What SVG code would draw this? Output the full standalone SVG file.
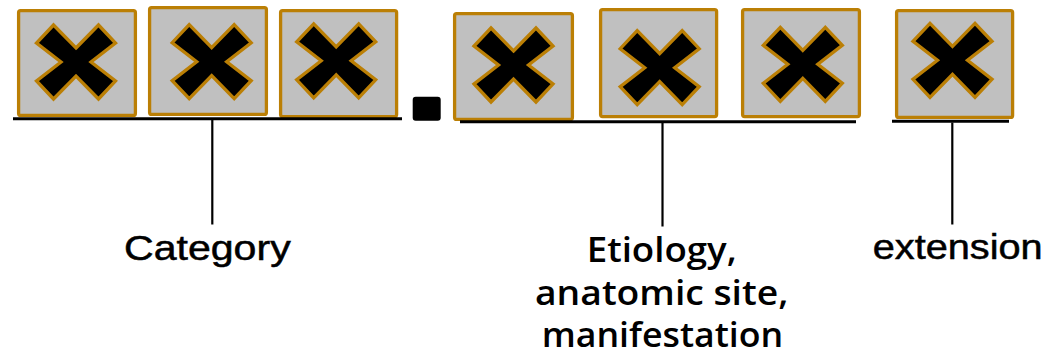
<svg xmlns="http://www.w3.org/2000/svg" width="1046" height="352" viewBox="0 0 1046 352">
<style>
.box{fill:#c0c0c0;stroke:#bb7f05;stroke-width:3.3}
.x{fill:#000;stroke:#bb7f05;stroke-width:3.3;stroke-linejoin:miter}
.ln{stroke:#000;stroke-width:3;fill:none}
.tk{stroke:#000;stroke-width:2.2;fill:none}
.t1{font-family:"Liberation Sans",Arial,sans-serif;font-size:35px;fill:#000;stroke:#000;stroke-width:0.5}
.t2{font-family:"Open Sans","Liberation Sans",sans-serif;font-size:34px;font-weight:600;fill:#000}
</style>
<defs>
<polygon id="cross" class="x" points="0,-14 22.5,-37 39.5,-19 15,0 39.5,19 22.5,37 0,14 -22.5,37 -39.5,19 -15,0 -39.5,-19 -22.5,-37"/>
</defs>
<g id="box1"><rect class="box" x="18.6" y="10.6" width="116.8" height="104.8" rx="2"/><use href="#cross" x="76" y="62"/></g>
<g id="box2"><rect class="box" x="149.6" y="7.6" width="116.8" height="106.8" rx="2"/><use href="#cross" x="211.7" y="61.7"/></g>
<g id="box3"><rect class="box" x="280.6" y="10.6" width="116" height="106" rx="2"/><use href="#cross" x="336.2" y="60.8"/></g>
<g id="period"><rect x="412.7" y="96.7" width="28" height="24" rx="3" fill="#000"/></g>
<g id="box4"><rect class="box" x="454.6" y="13.6" width="117.8" height="105.8" rx="2"/><use href="#cross" x="513.5" y="65"/></g>
<g id="box5"><rect class="box" x="600.6" y="9.6" width="116" height="107" rx="2"/><use href="#cross" x="659.7" y="67.7"/></g>
<g id="box6"><rect class="box" x="742.6" y="9.6" width="116.8" height="107" rx="2"/><use href="#cross" x="802.8" y="64.3"/></g>
<g id="box7"><rect class="box" x="896.6" y="10.6" width="116" height="106.8" rx="2"/><use href="#cross" x="952.5" y="60.3"/></g>
<g id="connectors">
<line class="ln" x1="13" y1="118.7" x2="402" y2="118.7"/>
<line class="ln" x1="460" y1="121.8" x2="856" y2="121.8"/>
<line class="ln" x1="892" y1="121.3" x2="1009" y2="121.3"/>
<line class="tk" x1="212.3" y1="120" x2="212.3" y2="224.5"/>
<line class="tk" x1="662.5" y1="123" x2="662.5" y2="226.5"/>
<line class="tk" x1="952.3" y1="122.5" x2="952.3" y2="224.5"/>
</g>
<g id="label-category"><text class="t1" x="124" y="259.5" textLength="166.7" lengthAdjust="spacingAndGlyphs">Category</text></g>
<g id="label-etiology">
<text class="t2" x="586.7" y="261.5" textLength="150" lengthAdjust="spacingAndGlyphs">Etiology,</text>
<text class="t2" x="535" y="304.5" textLength="253.3" lengthAdjust="spacingAndGlyphs">anatomic site,</text>
<text class="t2" x="541.7" y="346.5" textLength="241.6" lengthAdjust="spacingAndGlyphs">manifestation</text>
</g>
<g id="label-extension"><text class="t1" x="872.7" y="258.5" textLength="170" lengthAdjust="spacingAndGlyphs">extension</text></g>
</svg>
